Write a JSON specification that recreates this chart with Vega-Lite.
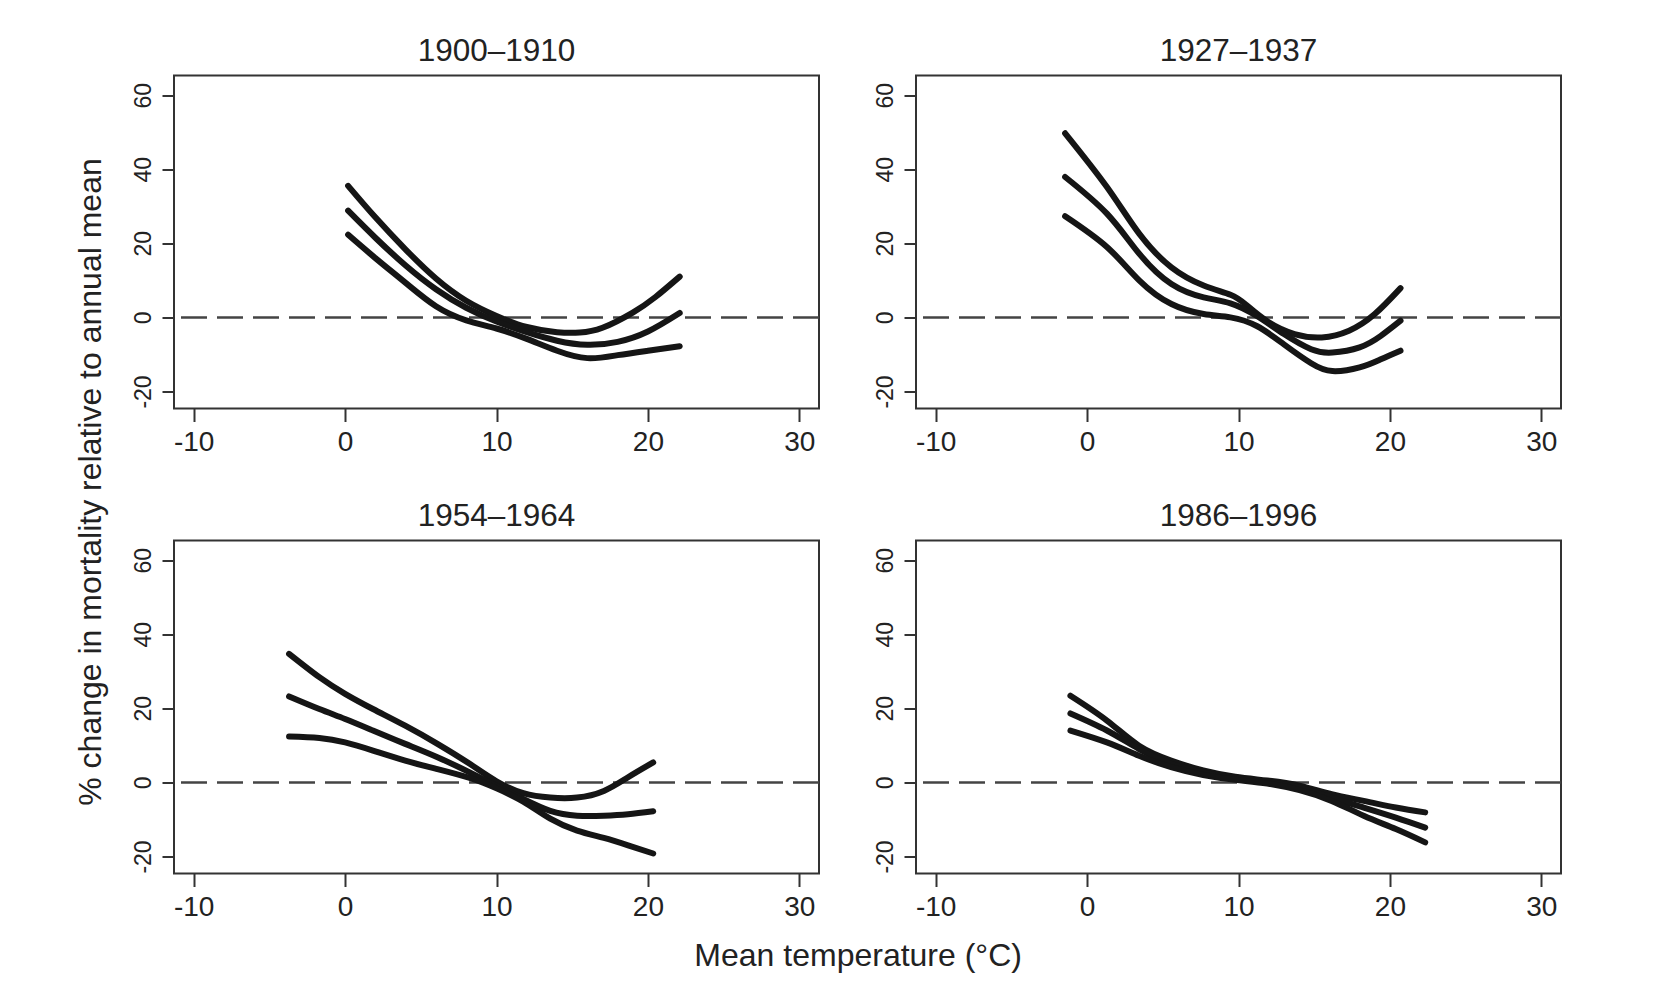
{
  "$schema": "https://vega.github.io/schema/vega-lite/v6.json",
  "background": "#ffffff",
  "padding": {"left": 74, "top": 34.5, "right": 5, "bottom": 5},
  "title": {"text": "% change in mortality relative to annual mean", "orient": "left", "anchor": "middle", "fontSize": 32, "font": "Liberation Sans", "fontWeight": "normal", "color": "#222222", "offset": 23, "dx": 21},
  "vconcat": [
    {
      "title": {"text": "Mean temperature (°C)", "orient": "bottom", "anchor": "middle", "fontSize": 32, "font": "Liberation Sans", "fontWeight": "normal", "color": "#222222", "offset": 18, "dx": 11},
      "data": {"values": [
        {"period": "1900–1910", "band": "u", "t": 0.2, "m": 35.5},
        {"period": "1900–1910", "band": "u", "t": 2, "m": 27},
        {"period": "1900–1910", "band": "u", "t": 4, "m": 18.3},
        {"period": "1900–1910", "band": "u", "t": 6, "m": 10.5},
        {"period": "1900–1910", "band": "u", "t": 8, "m": 4.5},
        {"period": "1900–1910", "band": "u", "t": 10, "m": 0.4},
        {"period": "1900–1910", "band": "u", "t": 12, "m": -2.6},
        {"period": "1900–1910", "band": "u", "t": 14, "m": -4},
        {"period": "1900–1910", "band": "u", "t": 15.5, "m": -4.1},
        {"period": "1900–1910", "band": "u", "t": 17, "m": -2.8},
        {"period": "1900–1910", "band": "u", "t": 19, "m": 1.3},
        {"period": "1900–1910", "band": "u", "t": 20.5, "m": 5.5},
        {"period": "1900–1910", "band": "u", "t": 22.1, "m": 11},
        {"period": "1900–1910", "band": "m", "t": 0.2, "m": 28.8},
        {"period": "1900–1910", "band": "m", "t": 2, "m": 21.5},
        {"period": "1900–1910", "band": "m", "t": 4, "m": 14},
        {"period": "1900–1910", "band": "m", "t": 6, "m": 7.6},
        {"period": "1900–1910", "band": "m", "t": 8, "m": 2.6},
        {"period": "1900–1910", "band": "m", "t": 10, "m": -1.1},
        {"period": "1900–1910", "band": "m", "t": 12, "m": -4},
        {"period": "1900–1910", "band": "m", "t": 14, "m": -6.3},
        {"period": "1900–1910", "band": "m", "t": 16, "m": -7.4},
        {"period": "1900–1910", "band": "m", "t": 18, "m": -6.6},
        {"period": "1900–1910", "band": "m", "t": 20, "m": -3.8},
        {"period": "1900–1910", "band": "m", "t": 22.1, "m": 1.2},
        {"period": "1900–1910", "band": "l", "t": 0.2, "m": 22.3},
        {"period": "1900–1910", "band": "l", "t": 2, "m": 16},
        {"period": "1900–1910", "band": "l", "t": 4, "m": 9.3},
        {"period": "1900–1910", "band": "l", "t": 6, "m": 3},
        {"period": "1900–1910", "band": "l", "t": 8, "m": -0.8},
        {"period": "1900–1910", "band": "l", "t": 10, "m": -3},
        {"period": "1900–1910", "band": "l", "t": 12, "m": -5.8},
        {"period": "1900–1910", "band": "l", "t": 14, "m": -9},
        {"period": "1900–1910", "band": "l", "t": 16, "m": -11},
        {"period": "1900–1910", "band": "l", "t": 18, "m": -10.2},
        {"period": "1900–1910", "band": "l", "t": 20, "m": -9},
        {"period": "1900–1910", "band": "l", "t": 22.1, "m": -7.8},

        {"period": "1927–1937", "band": "u", "t": -1.45, "m": 49.7},
        {"period": "1927–1937", "band": "u", "t": 1.31, "m": 35.2},
        {"period": "1927–1937", "band": "u", "t": 3.44, "m": 22.6},
        {"period": "1927–1937", "band": "u", "t": 5.57, "m": 13.5},
        {"period": "1927–1937", "band": "u", "t": 7.7, "m": 8.6},
        {"period": "1927–1937", "band": "u", "t": 9.47, "m": 6.1},
        {"period": "1927–1937", "band": "u", "t": 10.5, "m": 3.4},
        {"period": "1927–1937", "band": "u", "t": 11.95, "m": -1.2},
        {"period": "1927–1937", "band": "u", "t": 13.7, "m": -4.5},
        {"period": "1927–1937", "band": "u", "t": 15.5, "m": -5.4},
        {"period": "1927–1937", "band": "u", "t": 17.3, "m": -3.6},
        {"period": "1927–1937", "band": "u", "t": 19, "m": 0.9},
        {"period": "1927–1937", "band": "u", "t": 20.7, "m": 7.9},
        {"period": "1927–1937", "band": "m", "t": -1.45, "m": 37.9},
        {"period": "1927–1937", "band": "m", "t": 1.31, "m": 28},
        {"period": "1927–1937", "band": "m", "t": 3.44, "m": 17.2},
        {"period": "1927–1937", "band": "m", "t": 5.57, "m": 9},
        {"period": "1927–1937", "band": "m", "t": 7.7, "m": 5.4},
        {"period": "1927–1937", "band": "m", "t": 9.47, "m": 3.8},
        {"period": "1927–1937", "band": "m", "t": 11.24, "m": 0.3},
        {"period": "1927–1937", "band": "m", "t": 13, "m": -4.5},
        {"period": "1927–1937", "band": "m", "t": 14.8, "m": -8.6},
        {"period": "1927–1937", "band": "m", "t": 16.2, "m": -9.5},
        {"period": "1927–1937", "band": "m", "t": 18, "m": -8.1},
        {"period": "1927–1937", "band": "m", "t": 19.4, "m": -5},
        {"period": "1927–1937", "band": "m", "t": 20.7, "m": -0.9},
        {"period": "1927–1937", "band": "l", "t": -1.45, "m": 27.3},
        {"period": "1927–1937", "band": "l", "t": 1.31, "m": 19},
        {"period": "1927–1937", "band": "l", "t": 3.44, "m": 10},
        {"period": "1927–1937", "band": "l", "t": 5.57, "m": 3.6},
        {"period": "1927–1937", "band": "l", "t": 7.7, "m": 0.9},
        {"period": "1927–1937", "band": "l", "t": 9.47, "m": 0},
        {"period": "1927–1937", "band": "l", "t": 11.24, "m": -2.4},
        {"period": "1927–1937", "band": "l", "t": 13, "m": -7.3},
        {"period": "1927–1937", "band": "l", "t": 14.8, "m": -12.4},
        {"period": "1927–1937", "band": "l", "t": 16.2, "m": -14.5},
        {"period": "1927–1937", "band": "l", "t": 18, "m": -13.5},
        {"period": "1927–1937", "band": "l", "t": 19.4, "m": -11.3},
        {"period": "1927–1937", "band": "l", "t": 20.7, "m": -9},

        {"period": "1954–1964", "band": "u", "t": -3.7, "m": 34.7},
        {"period": "1954–1964", "band": "u", "t": -1.7, "m": 28.4},
        {"period": "1954–1964", "band": "u", "t": 0, "m": 23.9},
        {"period": "1954–1964", "band": "u", "t": 1.84, "m": 19.8},
        {"period": "1954–1964", "band": "u", "t": 3.97, "m": 15.3},
        {"period": "1954–1964", "band": "u", "t": 6.1, "m": 10.4},
        {"period": "1954–1964", "band": "u", "t": 8.23, "m": 5},
        {"period": "1954–1964", "band": "u", "t": 10, "m": 0.3},
        {"period": "1954–1964", "band": "u", "t": 11.77, "m": -2.9},
        {"period": "1954–1964", "band": "u", "t": 13.55, "m": -4.1},
        {"period": "1954–1964", "band": "u", "t": 15.32, "m": -4.1},
        {"period": "1954–1964", "band": "u", "t": 17.09, "m": -2.3},
        {"period": "1954–1964", "band": "u", "t": 18.69, "m": 1.4},
        {"period": "1954–1964", "band": "u", "t": 20.35, "m": 5.4},
        {"period": "1954–1964", "band": "m", "t": -3.7, "m": 23.2},
        {"period": "1954–1964", "band": "m", "t": -1.7, "m": 19.8},
        {"period": "1954–1964", "band": "m", "t": 0, "m": 17.1},
        {"period": "1954–1964", "band": "m", "t": 1.84, "m": 14},
        {"period": "1954–1964", "band": "m", "t": 3.97, "m": 10.4},
        {"period": "1954–1964", "band": "m", "t": 6.1, "m": 6.8},
        {"period": "1954–1964", "band": "m", "t": 8.23, "m": 2.7},
        {"period": "1954–1964", "band": "m", "t": 10, "m": -0.9},
        {"period": "1954–1964", "band": "m", "t": 11.77, "m": -4.5},
        {"period": "1954–1964", "band": "m", "t": 13.55, "m": -7.7},
        {"period": "1954–1964", "band": "m", "t": 15.32, "m": -9},
        {"period": "1954–1964", "band": "m", "t": 17.09, "m": -9},
        {"period": "1954–1964", "band": "m", "t": 18.69, "m": -8.6},
        {"period": "1954–1964", "band": "m", "t": 20.35, "m": -7.8},
        {"period": "1954–1964", "band": "l", "t": -3.7, "m": 12.4},
        {"period": "1954–1964", "band": "l", "t": -1.7, "m": 12},
        {"period": "1954–1964", "band": "l", "t": 0, "m": 10.8},
        {"period": "1954–1964", "band": "l", "t": 1.84, "m": 8.6},
        {"period": "1954–1964", "band": "l", "t": 3.97, "m": 5.9},
        {"period": "1954–1964", "band": "l", "t": 6.1, "m": 3.6},
        {"period": "1954–1964", "band": "l", "t": 8.23, "m": 1.2},
        {"period": "1954–1964", "band": "l", "t": 10, "m": -1.6},
        {"period": "1954–1964", "band": "l", "t": 11.77, "m": -5.2},
        {"period": "1954–1964", "band": "l", "t": 13.55, "m": -9.8},
        {"period": "1954–1964", "band": "l", "t": 15.32, "m": -13},
        {"period": "1954–1964", "band": "l", "t": 17.09, "m": -15},
        {"period": "1954–1964", "band": "l", "t": 18.69, "m": -17},
        {"period": "1954–1964", "band": "l", "t": 20.35, "m": -19.2},

        {"period": "1986–1996", "band": "u", "t": -1.1, "m": 23.4},
        {"period": "1986–1996", "band": "u", "t": 1.31, "m": 16.7},
        {"period": "1986–1996", "band": "u", "t": 3.43, "m": 9.9},
        {"period": "1986–1996", "band": "u", "t": 5.55, "m": 5.9},
        {"period": "1986–1996", "band": "u", "t": 7.67, "m": 3.2},
        {"period": "1986–1996", "band": "u", "t": 9.79, "m": 1.5},
        {"period": "1986–1996", "band": "u", "t": 11.9, "m": 0.5},
        {"period": "1986–1996", "band": "u", "t": 14.03, "m": -0.9},
        {"period": "1986–1996", "band": "u", "t": 16.15, "m": -3.2},
        {"period": "1986–1996", "band": "u", "t": 18.27, "m": -5},
        {"period": "1986–1996", "band": "u", "t": 20.39, "m": -6.8},
        {"period": "1986–1996", "band": "u", "t": 22.33, "m": -8.1},
        {"period": "1986–1996", "band": "m", "t": -1.1, "m": 18.6},
        {"period": "1986–1996", "band": "m", "t": 1.31, "m": 14},
        {"period": "1986–1996", "band": "m", "t": 3.43, "m": 9},
        {"period": "1986–1996", "band": "m", "t": 5.55, "m": 5},
        {"period": "1986–1996", "band": "m", "t": 7.67, "m": 2.7},
        {"period": "1986–1996", "band": "m", "t": 9.79, "m": 1.2},
        {"period": "1986–1996", "band": "m", "t": 11.9, "m": 0.2},
        {"period": "1986–1996", "band": "m", "t": 14.03, "m": -1.4},
        {"period": "1986–1996", "band": "m", "t": 16.15, "m": -4.1},
        {"period": "1986–1996", "band": "m", "t": 18.27, "m": -6.8},
        {"period": "1986–1996", "band": "m", "t": 20.39, "m": -9.5},
        {"period": "1986–1996", "band": "m", "t": 22.33, "m": -12.2},
        {"period": "1986–1996", "band": "l", "t": -1.1, "m": 14},
        {"period": "1986–1996", "band": "l", "t": 1.31, "m": 10.8},
        {"period": "1986–1996", "band": "l", "t": 3.43, "m": 7.2},
        {"period": "1986–1996", "band": "l", "t": 5.55, "m": 4.1},
        {"period": "1986–1996", "band": "l", "t": 7.67, "m": 2},
        {"period": "1986–1996", "band": "l", "t": 9.79, "m": 0.7},
        {"period": "1986–1996", "band": "l", "t": 11.9, "m": -0.3},
        {"period": "1986–1996", "band": "l", "t": 14.03, "m": -2.1},
        {"period": "1986–1996", "band": "l", "t": 16.15, "m": -5},
        {"period": "1986–1996", "band": "l", "t": 18.27, "m": -9},
        {"period": "1986–1996", "band": "l", "t": 20.39, "m": -12.6},
        {"period": "1986–1996", "band": "l", "t": 22.33, "m": -16.2}
      ]},
      "facet": {"field": "period", "type": "nominal", "sort": ["1900–1910", "1927–1937", "1954–1964", "1986–1996"],
        "header": {"title": null, "labelFontSize": 31.5, "labelFont": "Liberation Sans", "labelColor": "#222222", "labelPadding": -16.5, "labelBaseline": "alphabetic"}},
      "columns": 2,
      "bounds": "flush",
      "spacing": {"row": 132, "column": 97},
      "resolve": {"axis": {"x": "independent", "y": "independent"}},
      "spec": {
        "width": 645,
        "height": 333,
        "layer": [
          {
            "transform": [{"aggregate": [{"op": "count", "as": "n"}], "groupby": ["period"]}],
            "mark": {"type": "rule", "strokeDash": [26, 10], "strokeWidth": 2.5, "color": "#444444"},
            "encoding": {"y": {"datum": 0, "type": "quantitative", "scale": {"domain": [-24.6, 65.3], "nice": false, "zero": false}}}
          },
          {
            "mark": {"type": "line", "interpolate": "natural", "strokeWidth": 6, "color": "#151515", "strokeCap": "round", "strokeJoin": "round"},
            "encoding": {
              "x": {"field": "t", "type": "quantitative", "scale": {"domain": [-11.3, 31.3], "nice": false, "zero": false},
                "axis": {"values": [-10, 0, 10, 20, 30], "title": null, "grid": false, "domain": false, "tickSize": 13, "tickWidth": 2, "tickColor": "#333333", "labelFontSize": 28, "labelFont": "Liberation Sans", "labelColor": "#222222", "labelPadding": 7, "labelFlush": false, "labelOverlap": false, "labelExpr": "replace(datum.label, '\u2212', '-')"}},
              "y": {"field": "m", "type": "quantitative", "scale": {"domain": [-24.6, 65.3], "nice": false, "zero": false},
                "axis": {"values": [-20, 0, 20, 40, 60], "title": null, "grid": false, "domain": false, "tickSize": 12, "tickWidth": 2, "tickColor": "#333333", "labelFontSize": 23, "labelFont": "Liberation Sans", "labelColor": "#222222", "labelAngle": 270, "labelAlign": "center", "labelBaseline": "alphabetic", "labelPadding": 12, "labelFlush": false, "labelOverlap": false, "labelExpr": "replace(datum.label, '\u2212', '-')"}},
              "detail": {"field": "band", "type": "nominal"}
            }
          }
        ]
      }
    }
  ],
  "config": {
    "view": {"stroke": "#333333", "strokeWidth": 2},
    "font": "Liberation Sans"
  }
}
